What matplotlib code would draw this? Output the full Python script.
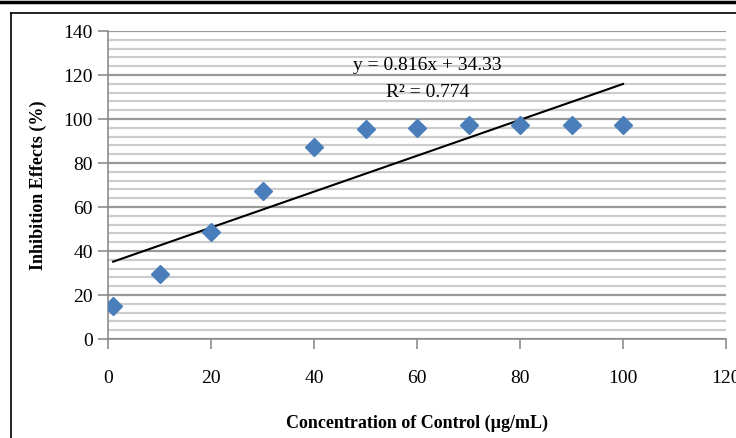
import numpy as np
import matplotlib
matplotlib.use("Agg")
import matplotlib.pyplot as plt
from matplotlib.lines import Line2D

# concentration (ug/mL) vs inhibition (%)
conc = [1, 10, 20, 30, 40, 50, 60, 70, 80, 90, 100]
inhib = [15, 29.5, 48.5, 67.5, 87.5, 95.5, 96, 97.2, 97.2, 97.2, 97.2]
slope, intercept = 0.816, 34.33
eq_text = "y = 0.816x + 34.33"
r2_text = "R² = 0.774"

plt.rcParams['font.family'] = ['Liberation Serif', 'DejaVu Serif']

fig = plt.figure(figsize=(7.36, 4.38), dpi=100)
ax = fig.add_axes([108/736, 1 - 339/438, (726 - 108)/736, (339 - 31)/438])

# frame lines around the picture
W, H = 736, 438
fig.add_artist(Line2D([0, 1], [1 - 1.5/H, 1 - 1.5/H], color='black', lw=2.5, transform=fig.transFigure))
fig.add_artist(Line2D([11/W, 1], [1 - 13/H, 1 - 13/H], color='black', lw=1.2, transform=fig.transFigure))
fig.add_artist(Line2D([11/W, 11/W], [1 - 13/H, 0], color='black', lw=1.2, transform=fig.transFigure))

ax.set_xlim(0, 120)
ax.set_ylim(0, 140)
ax.set_xticks(np.arange(0, 121, 20))
ax.set_yticks(np.arange(0, 141, 20))
ax.set_yticks(np.arange(0, 141, 4), minor=True)

ax.grid(True, which='major', axis='y', color='#999999', lw=1.6)
ax.grid(True, which='minor', axis='y', color='#cccccc', lw=1.6)
ax.set_axisbelow(True)

for s in ['top', 'right']:
    ax.spines[s].set_visible(False)
for s in ['left', 'bottom']:
    ax.spines[s].set_color('#8c8c8c')
    ax.spines[s].set_linewidth(1.2)

ax.tick_params(axis='both', which='major', direction='out', length=7, width=1.2,
               color='#8c8c8c', labelsize=14, pad=4)
ax.tick_params(axis='x', pad=15)
ax.tick_params(axis='y', which='minor', length=0)

ax.plot(conc, inhib, 'D', color='#4a7ebb', markersize=9, zorder=3)
xs = np.array([conc[0], conc[-1]])
ax.plot(xs, slope * xs + intercept, color='black', lw=1.5, zorder=2)

ax.text(62, 124.5, eq_text, ha='center', va='center', fontsize=14)
ax.text(62, 112, r2_text, ha='center', va='center', fontsize=14)

ax.set_xlabel("Concentration of Control (µg/mL)", fontsize=13, fontweight='bold', labelpad=20)
ax.set_ylabel("Inhibition Effects (%)", fontsize=13, fontweight='bold', labelpad=12)

fig.savefig("out.png", dpi=100)
